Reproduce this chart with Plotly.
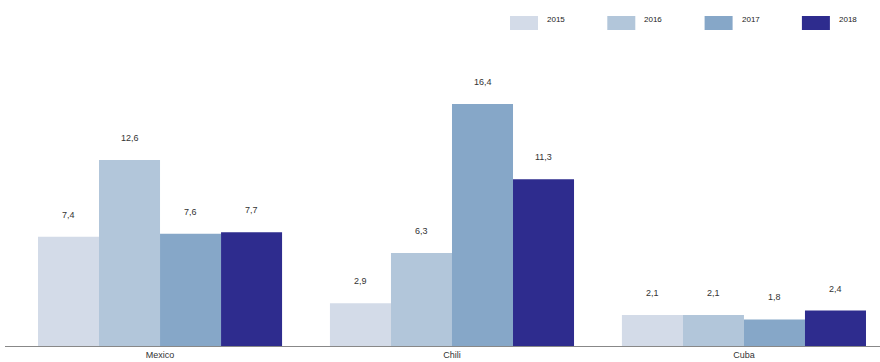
import plotly.graph_objects as go

categories = ["Mexico", "Chili", "Cuba"]
years = ["2015", "2016", "2017", "2018"]
v2015 = [7.4, 2.9, 2.1]
v2016 = [12.6, 6.3, 2.1]
v2017 = [7.6, 16.4, 1.8]
v2018 = [7.7, 11.3, 2.4]
series = [v2015, v2016, v2017, v2018]
colors = ["#d3dbe8", "#b2c6da", "#86a7c8", "#2e2c8e"]

BARGAP = 0.164
fig = go.Figure()
for yr, vals, col in zip(years, series, colors):
    fig.add_trace(go.Bar(x=list(range(len(categories))), y=vals, name=yr,
                         marker=dict(color=col, line=dict(width=0)),
                         showlegend=False, hoverinfo="skip"))

w = 1 - BARGAP
n = len(series)
for i, vals in enumerate(series):
    off = -w / 2 + w / n * (i + 0.5)
    for c, v in enumerate(vals):
        fig.add_annotation(x=c + off, y=v, xref="x", yref="y",
                           text=f"{v:.1f}".replace(".", ","), showarrow=False,
                           yshift=22, font=dict(size=9, color="#333333"))

# manual legend
for i, (yr, col) in enumerate(zip(years, colors)):
    x0 = 510 + i * 97.3
    fig.add_shape(type="rect", xref="paper", yref="paper",
                  x0=(x0 - 5) / 875, x1=(x0 + 28 - 5) / 875,
                  y0=(346 - 30) / 286, y1=(346 - 16) / 286,
                  fillcolor=col, line=dict(width=0))
    fig.add_annotation(xref="paper", yref="paper", x=(x0 + 35 - 5) / 875,
                       y=(346 - 19) / 286, text=yr, showarrow=False,
                       xanchor="left", yanchor="middle",
                       font=dict(size=8, color="#222222"))

fig.update_layout(
    width=880, height=362,
    margin=dict(l=5, r=0, t=60, b=16),
    paper_bgcolor="white", plot_bgcolor="white",
    barmode="group", bargap=BARGAP, bargroupgap=0,
    font=dict(family="Liberation Sans, Arial, sans-serif", size=9, color="#333333"),
    xaxis=dict(tickmode="array", tickvals=list(range(len(categories))),
               ticktext=categories, range=[-0.531, 2.466],
               showline=True, linecolor="#888888", linewidth=1,
               ticks="", showgrid=False, zeroline=False,
               tickfont=dict(size=9, color="#333333")),
    yaxis=dict(range=[0, 19.38], visible=False, showgrid=False, zeroline=False),
)

fig.write_html("out.html")
